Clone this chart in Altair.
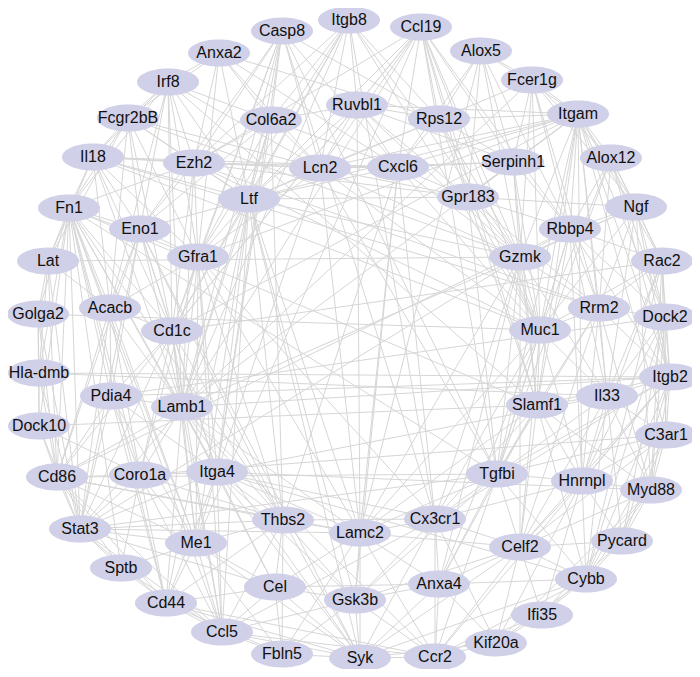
import altair as alt
import pandas as pd

# ---- node layout (pixel coordinates of the reference layout) ----
node_names = [
    "Itgb8", "Ccl19", "Casp8", "Alox5", "Anxa2", "Fcer1g", "Irf8", "Itgam",
    "Fcgr2bB", "Ruvbl1", "Rps12", "Col6a2", "Alox12", "Il18", "Serpinh1", "Ezh2",
    "Lcn2", "Cxcl6", "Gpr183", "Ltf", "Ngf", "Fn1", "Eno1", "Rbbp4",
    "Gfra1", "Gzmk", "Lat", "Rac2", "Acacb", "Rrm2", "Golga2", "Dock2",
    "Cd1c", "Muc1", "Hla-dmb", "Itgb2", "Pdia4", "Il33", "Slamf1", "Lamb1",
    "Dock10", "C3ar1", "Itga4", "Coro1a", "Tgfbi", "Cd86", "Hnrnpl", "Myd88",
    "Cx3cr1", "Thbs2", "Stat3", "Lamc2", "Me1", "Pycard", "Celf2", "Sptb",
    "Cybb", "Anxa4", "Cel", "Gsk3b", "Cd44", "Ifi35", "Ccl5", "Kif20a",
    "Fbln5", "Ccr2", "Syk",
]
node_x = [
    349, 421, 282, 481, 219, 532, 168, 578,
    128, 357, 439, 271, 611, 93, 513, 194,
    320, 398, 468, 249, 636, 69, 140, 570,
    198, 520, 48, 662, 110, 599, 38, 665,
    172, 540, 39, 670, 111, 607, 537, 182,
    39, 666, 217, 140, 497, 57, 582, 651,
    435, 283, 80, 360, 196, 622, 520, 121,
    586, 439, 275, 355, 166, 542, 222, 496,
    282, 435, 360,
]
node_y = [
    20, 27, 31, 51, 53, 80, 82, 114,
    118, 105, 119, 120, 158, 157, 162, 163,
    168, 167, 197, 199, 207, 208, 229, 229,
    257, 257, 261, 261, 308, 308, 314, 317,
    331, 330, 373, 377, 396, 396, 405, 407,
    426, 435, 472, 475, 474, 477, 481, 490,
    519, 520, 529, 533, 543, 541, 547, 568,
    579, 584, 587, 600, 603, 615, 632, 643,
    654, 657, 658,
]

# ---- interactions (adjacency lists) ----
adjacency = {
    "Itgb8": ["Ezh2", "Ltf", "Col6a2", "Lcn2", "Ruvbl1", "Gfra1", "Cd1c", "Lamb1", "Gzmk", "Muc1", "Cx3cr1", "Rps12"],
    "Ccl19": ["Ruvbl1", "Rps12", "Cxcl6", "Gpr183", "Serpinh1", "Gzmk", "Ltf", "Lcn2", "Ezh2", "Muc1", "Slamf1", "Tgfbi", "Rbbp4", "Me1", "Lamb1", "Cd1c"],
    "Casp8": ["Col6a2", "Ezh2", "Lcn2", "Ltf", "Gfra1", "Eno1", "Cd1c", "Lamb1", "Cxcl6", "Itga4", "Rps12", "Tgfbi", "Cx3cr1"],
    "Alox5": ["Fcer1g", "Itgam", "Serpinh1", "Gpr183", "Gzmk", "Rbbp4", "Cxcl6", "Rps12", "Lamc2"],
    "Anxa2": ["Irf8", "Col6a2", "Ezh2", "Ltf", "Lcn2", "Gfra1", "Fcgr2bB", "Cxcl6", "Rps12"],
    "Fcer1g": ["Itgam", "Alox12", "Ngf", "Rbbp4", "Gzmk", "Serpinh1", "Rrm2", "Muc1", "Rps12", "Lamb1"],
    "Irf8": ["Fcgr2bB", "Il18", "Ezh2", "Fn1", "Eno1", "Gfra1", "Ltf", "Lcn2", "Cd1c", "Acacb", "Col6a2", "Lamb1", "Slamf1"],
    "Itgam": ["Alox12", "Ngf", "Rac2", "Dock2", "Rbbp4", "Gzmk", "Rrm2", "Muc1", "Slamf1", "Il33", "Itgb2", "Serpinh1", "Gpr183", "Rps12", "Ruvbl1", "Lcn2", "Cxcl6", "Tgfbi", "Hnrnpl", "C3ar1", "Ltf", "Lamb1", "Cd1c", "Gfra1"],
    "Fcgr2bB": ["Il18", "Fn1", "Ezh2", "Eno1", "Ltf", "Lcn2", "Gfra1", "Acacb", "Cd1c", "Lat", "Gzmk"],
    "Ruvbl1": ["Col6a2", "Lcn2", "Cxcl6", "Rps12", "Gpr183", "Serpinh1", "Gzmk", "Ltf", "Cd1c", "Lamc2"],
    "Rps12": ["Serpinh1", "Gpr183", "Cxcl6", "Lcn2", "Gzmk", "Muc1", "Ltf"],
    "Col6a2": ["Ezh2", "Lcn2", "Ltf", "Gfra1", "Cxcl6", "Eno1", "Lamb1", "Itga4", "Thbs2"],
    "Alox12": ["Ngf", "Rbbp4", "Rac2", "Dock2", "Rrm2", "Itgb2", "Muc1", "Tgfbi"],
    "Il18": ["Fn1", "Ezh2", "Ltf", "Lcn2", "Eno1", "Gfra1", "Acacb", "Cd1c", "Lat", "Lamb1", "Cxcl6", "Rrm2", "Muc1"],
    "Serpinh1": ["Gpr183", "Gzmk", "Rbbp4", "Muc1", "Cxcl6", "Lcn2", "Slamf1"],
    "Ezh2": ["Ltf", "Lcn2", "Eno1", "Fn1", "Gfra1", "Cd1c", "Cxcl6", "Gpr183", "Lamb1", "Rrm2", "Muc1"],
    "Lcn2": ["Ltf", "Cxcl6", "Gpr183", "Gfra1", "Gzmk", "Tgfbi", "Muc1", "Itga4", "Lamc2"],
    "Cxcl6": ["Gpr183", "Ltf", "Gzmk", "Muc1", "Lamc2", "Cx3cr1", "Gsk3b", "Thbs2"],
    "Gpr183": ["Gzmk", "Rbbp4", "Ngf", "Rrm2", "Muc1", "Slamf1", "Ltf", "Tgfbi"],
    "Ltf": ["Gfra1", "Eno1", "Cd1c", "Lamb1", "Itga4", "Thbs2", "Lamc2", "Me1", "Gsk3b", "Syk", "Ccl5", "Gzmk", "Cd44"],
    "Ngf": ["Rac2", "Rbbp4", "Dock2", "Rrm2", "Muc1", "Itgb2", "Il33", "Myd88", "Gzmk", "Lamb1"],
    "Fn1": ["Eno1", "Gfra1", "Lat", "Acacb", "Cd1c", "Pdia4", "Lamb1", "Cd86", "Coro1a", "Itga4", "Stat3", "Me1", "Golga2", "Hla-dmb", "Dock10", "Thbs2", "Cd44", "Sptb", "Ccl5", "Slamf1", "Tgfbi"],
    "Eno1": ["Gfra1", "Acacb", "Cd1c", "Pdia4", "Lamb1", "Itga4", "Cd86", "Stat3", "Thbs2", "Syk"],
    "Rbbp4": ["Gzmk", "Rrm2", "Muc1", "Rac2", "Dock2", "Slamf1", "Il33", "Itgb2", "Hnrnpl", "Tgfbi", "Cd86"],
    "Gfra1": ["Cd1c", "Lamb1", "Acacb", "Itga4", "Coro1a", "Me1", "Thbs2", "Lamc2", "Cx3cr1", "Ccl5"],
    "Gzmk": ["Rrm2", "Muc1", "Slamf1", "Tgfbi", "Cx3cr1", "Lamc2", "Celf2", "Anxa4", "Il33", "Stat3", "Lat"],
    "Lat": ["Golga2", "Cd86", "Acacb", "Stat3", "Hla-dmb"],
    "Rac2": ["Dock2", "Rrm2", "Itgb2", "Il33", "Muc1", "Myd88", "C3ar1", "Hnrnpl", "Cybb", "Cd1c"],
    "Acacb": ["Cd1c", "Pdia4", "Cd86", "Lamb1", "Coro1a", "Stat3", "Me1"],
    "Rrm2": ["Muc1", "Dock2", "Il33", "Slamf1", "Itgb2", "Hnrnpl", "Tgfbi", "Celf2", "Myd88"],
    "Golga2": ["Cd86", "Hla-dmb", "Stat3", "Dock10", "Muc1"],
    "Dock2": ["Itgb2", "Il33", "C3ar1", "Myd88", "Hnrnpl", "Pycard", "Cybb", "Pdia4"],
    "Cd1c": ["Lamb1", "Pdia4", "Itga4", "Coro1a", "Me1", "Thbs2", "Cd86", "Stat3", "Ccl5"],
    "Muc1": ["Slamf1", "Il33", "Tgfbi", "Cx3cr1", "Celf2", "Hnrnpl", "Anxa4", "Lamc2"],
    "Hla-dmb": ["Cd86", "Dock10", "Stat3", "Itgb2", "Il33"],
    "Itgb2": ["Il33", "C3ar1", "Myd88", "Hnrnpl", "Slamf1", "Cybb", "Pycard", "Celf2", "Tgfbi", "Cx3cr1", "Ccr2", "Lamb1", "Pdia4"],
    "Pdia4": ["Lamb1", "Cd86", "Coro1a", "Itga4", "Stat3", "Me1", "Cd44"],
    "Il33": ["Slamf1", "C3ar1", "Hnrnpl", "Myd88", "Cybb", "Tgfbi", "Celf2", "Pycard", "Itga4"],
    "Slamf1": ["Tgfbi", "Hnrnpl", "Cx3cr1", "Celf2", "Myd88", "Cybb", "Anxa4", "Lamc2", "Dock10"],
    "Lamb1": ["Itga4", "Coro1a", "Me1", "Thbs2", "Cd86", "Stat3", "Cd44", "Ccl5", "Cel", "Syk", "Lamc2", "Ccr2"],
    "Dock10": ["Cd86", "Stat3", "Coro1a"],
    "C3ar1": ["Myd88", "Hnrnpl", "Cybb", "Pycard", "Celf2", "Tgfbi", "Coro1a"],
    "Itga4": ["Coro1a", "Me1", "Thbs2", "Cd44", "Ccl5", "Cel", "Syk", "Lamc2", "Gsk3b", "Stat3", "Cx3cr1", "Myd88", "Cybb"],
    "Coro1a": ["Cd86", "Stat3", "Me1", "Cd44", "Ccl5", "Sptb", "Thbs2"],
    "Tgfbi": ["Hnrnpl", "Cx3cr1", "Celf2", "Anxa4", "Cybb", "Lamc2", "Gsk3b", "Ccr2"],
    "Cd86": ["Stat3", "Sptb", "Cd44", "Me1", "Thbs2", "Lamc2", "Tgfbi", "Ccl5"],
    "Hnrnpl": ["Myd88", "Celf2", "Cybb", "Pycard", "Ifi35", "Kif20a", "Cx3cr1"],
    "Myd88": ["Pycard", "Cybb", "Celf2", "Ifi35", "Kif20a"],
    "Cx3cr1": ["Lamc2", "Celf2", "Anxa4", "Gsk3b", "Syk", "Ccr2", "Thbs2", "Kif20a", "Ccl5"],
    "Thbs2": ["Lamc2", "Me1", "Cel", "Gsk3b", "Syk", "Ccl5", "Cd44", "Fbln5", "Stat3"],
    "Stat3": ["Sptb", "Cd44", "Me1", "Ccl5", "Thbs2", "Cel", "Lamc2", "Tgfbi"],
    "Lamc2": ["Gsk3b", "Anxa4", "Syk", "Ccr2", "Cel", "Celf2", "Fbln5"],
    "Me1": ["Cd44", "Ccl5", "Cel", "Sptb", "Syk", "Fbln5"],
    "Pycard": ["Cybb", "Celf2", "Ifi35"],
    "Celf2": ["Cybb", "Anxa4", "Ifi35", "Kif20a", "Ccr2", "Syk", "Gsk3b"],
    "Sptb": ["Cd44", "Ccl5"],
    "Cybb": ["Ifi35", "Kif20a", "Ccr2", "Anxa4", "Syk"],
    "Anxa4": ["Gsk3b", "Ccr2", "Syk", "Kif20a", "Cel"],
    "Cel": ["Gsk3b", "Ccl5", "Syk", "Cd44", "Fbln5"],
    "Gsk3b": ["Syk", "Ccr2", "Ccl5", "Fbln5"],
    "Cd44": ["Ccl5", "Syk", "Fbln5", "Ccr2"],
    "Ifi35": ["Kif20a", "Ccr2"],
    "Ccl5": ["Fbln5", "Syk", "Ccr2"],
    "Kif20a": ["Ccr2", "Syk"],
    "Fbln5": ["Syk"],
    "Ccr2": ["Syk"],
}

# ---- build tables ----
pos = {n: (x, y) for n, x, y in zip(node_names, node_x, node_y)}
nodes = pd.DataFrame({"name": node_names, "x": node_x, "y": node_y})

seen = set()
rows = []
for src, targets in adjacency.items():
    for tgt in targets:
        key = tuple(sorted((src, tgt)))
        if key in seen or src == tgt:
            continue
        seen.add(key)
        rows.append({"x": pos[src][0], "y": pos[src][1],
                     "x2": pos[tgt][0], "y2": pos[tgt][1]})
edges = pd.DataFrame(rows)

W, H = 684, 661
xs = alt.Scale(domain=[8, 8 + W])
ys = alt.Scale(domain=[8, 8 + H], reverse=True)

k = 0.5523
ry = 0.435
ellipse = (
    f"M -1 0 C -1 {-k*ry:.4f} {-k:.4f} {-ry} 0 {-ry} "
    f"C {k:.4f} {-ry} 1 {-k*ry:.4f} 1 0 "
    f"C 1 {k*ry:.4f} {k:.4f} {ry} 0 {ry} "
    f"C {-k:.4f} {ry} -1 {k*ry:.4f} -1 0 Z"
)

edge_layer = alt.Chart(edges).mark_rule(
    color="#d6d6d6", strokeWidth=1
).encode(
    x=alt.X("x:Q", scale=xs, axis=None),
    y=alt.Y("y:Q", scale=ys, axis=None),
    x2="x2:Q",
    y2="y2:Q",
)

node_layer = alt.Chart(nodes).mark_point(
    shape=ellipse, size=62 * 62, filled=True, fill="#d0d0e8",
    opacity=1, strokeWidth=0
).encode(
    x=alt.X("x:Q", scale=xs, axis=None),
    y=alt.Y("y:Q", scale=ys, axis=None),
)

label_layer = alt.Chart(nodes).mark_text(
    font="Liberation Sans", fontSize=16, color="#111111",
    align="center", baseline="middle"
).encode(
    x=alt.X("x:Q", scale=xs, axis=None),
    y=alt.Y("y:Q", scale=ys, axis=None),
    text="name:N",
)

chart = alt.layer(edge_layer, node_layer, label_layer).properties(
    width=W, height=H, padding=0,
    autosize=alt.AutoSizeParams(type="none"),
    background="white",
).configure_view(stroke=None)

chart.save("out.html", embed_options={"renderer": "svg", "actions": False})
